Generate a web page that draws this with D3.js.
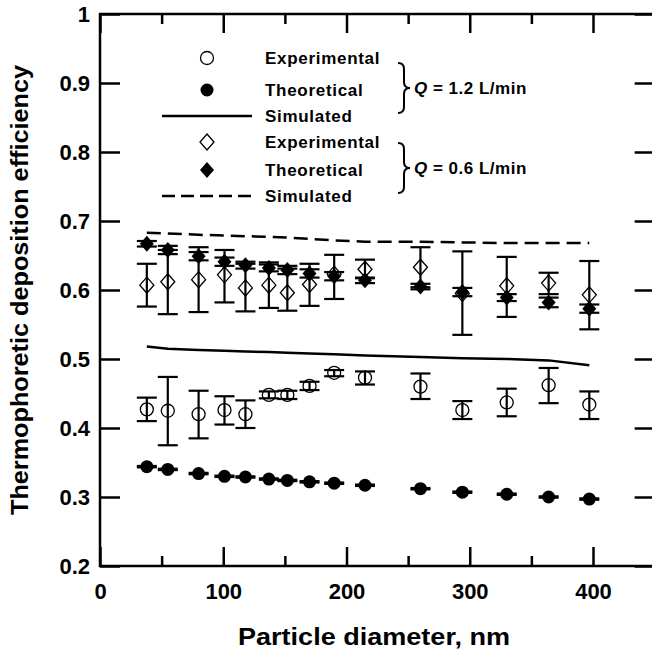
<!DOCTYPE html>
<html>
<head>
<meta charset="utf-8">
<script src="https://cdn.jsdelivr.net/npm/d3@7"></script>
<style>
  body { margin: 0; background: #fff; }
  svg { display: block; font-family: "Liberation Sans", Arial, sans-serif; font-weight: bold; }
</style>
</head>
<body>
<svg id="chart" width="652" height="653"></svg>
<script>
// ---- data ----
var diameters = [38, 55, 80, 101, 118, 137, 152, 170, 190, 215, 260, 294, 330, 364, 397];

// Q = 1.2 L/min
var exp12   = [0.427, 0.425, 0.420, 0.426, 0.420, 0.448, 0.448, 0.461, 0.480, 0.473, 0.460, 0.426, 0.437, 0.462, 0.434];
var exp12Lo = [0.410, 0.375, 0.385, 0.405, 0.400, 0.443, 0.442, 0.455, 0.475, 0.463, 0.442, 0.413, 0.417, 0.436, 0.413];
var exp12Hi = [0.444, 0.474, 0.454, 0.446, 0.440, 0.453, 0.454, 0.467, 0.484, 0.482, 0.479, 0.439, 0.457, 0.487, 0.453];
var theo12  = [0.344, 0.340, 0.334, 0.330, 0.329, 0.326, 0.324, 0.322, 0.320, 0.317, 0.312, 0.307, 0.304, 0.300, 0.297];
var theo12Err = [0.001, 0.001, 0.001, 0.001, 0.001, 0.001, 0.001, 0.001, 0.001, 0.001, 0.001, 0.001, 0.001, 0.001, 0.001];
var sim12   = [0.518, 0.515, 0.513, 0.512, 0.511, 0.510, 0.509, 0.508, 0.507, 0.505, 0.503, 0.501, 0.500, 0.498, 0.491];

// Q = 0.6 L/min
var exp06   = [0.607, 0.612, 0.615, 0.622, 0.603, 0.607, 0.596, 0.608, 0.623, 0.630, 0.633, 0.595, 0.606, 0.610, 0.593];
var exp06Lo = [0.576, 0.565, 0.568, 0.582, 0.569, 0.574, 0.570, 0.577, 0.587, 0.617, 0.604, 0.535, 0.561, 0.594, 0.543];
var exp06Hi = [0.638, 0.658, 0.662, 0.658, 0.638, 0.640, 0.631, 0.638, 0.651, 0.644, 0.662, 0.656, 0.648, 0.625, 0.642];
var theo06  = [0.667, 0.658, 0.649, 0.641, 0.636, 0.632, 0.629, 0.624, 0.620, 0.614, 0.605, 0.597, 0.589, 0.582, 0.573];
var theo06Err = [0.004, 0.006, 0.006, 0.006, 0.005, 0.005, 0.006, 0.006, 0.006, 0.004, 0.004, 0.006, 0.005, 0.007, 0.006];
var sim06   = [0.683, 0.682, 0.680, 0.679, 0.678, 0.677, 0.676, 0.674, 0.672, 0.670, 0.670, 0.669, 0.668, 0.668, 0.668];

var X_MAJOR = [0, 100, 200, 300, 400];
var X_MINOR = [50, 150, 250, 350, 450];
var Y_TICKS = [0.2, 0.3, 0.4, 0.5, 0.6, 0.7, 0.8, 0.9, 1];

// ---- layout ----
var LEFT = 100, TOP = 14, BOTTOM = 566;
var X_PER_UNIT = 1.2325;
var X_MAX = 450;
var CAP_W = 10;          // half width of error bar caps
var MARK_R = 6.5;

var svg = d3.select("#chart");
var xScale = d3.scaleLinear().domain([0, X_MAX]).range([LEFT, LEFT + X_MAX * X_PER_UNIT]);
var yScale = d3.scaleLinear().domain([0.2, 1]).range([BOTTOM, TOP]);
var RIGHT = xScale(X_MAX);

function styleAxis(g) {
    g.select(".domain").remove();
    g.selectAll(".tick line").attr("stroke", "#000").attr("stroke-width", 2.5);
    g.selectAll(".tick text")
        .attr("fill", "#000")
        .style("font-size", "22px")
        .style("font-weight", "bold")
        .style("font-family", "'Liberation Sans', Arial, sans-serif");
}

// bottom axis, major + minor
svg.append("g")
    .attr("transform", "translate(0," + BOTTOM + ")")
    .call(d3.axisBottom(xScale).tickValues(X_MAJOR).tickSize(-19).tickPadding(17).tickFormat(d3.format("d")))
    .call(styleAxis);
svg.append("g")
    .attr("transform", "translate(0," + BOTTOM + ")")
    .call(d3.axisBottom(xScale).tickValues(X_MINOR).tickSize(-10).tickFormat(""))
    .call(styleAxis);
// top axis
svg.append("g")
    .attr("transform", "translate(0," + TOP + ")")
    .call(d3.axisTop(xScale).tickValues(X_MAJOR).tickSize(-19).tickFormat(""))
    .call(styleAxis);
svg.append("g")
    .attr("transform", "translate(0," + TOP + ")")
    .call(d3.axisTop(xScale).tickValues(X_MINOR).tickSize(-10).tickFormat(""))
    .call(styleAxis);
// left / right axes
svg.append("g")
    .attr("transform", "translate(" + LEFT + ",0)")
    .call(d3.axisLeft(yScale).tickValues(Y_TICKS).tickSize(-20).tickPadding(10)
        .tickFormat(d => d === 1 ? "1" : d3.format(".1f")(d)))
    .call(styleAxis);
svg.append("g")
    .attr("transform", "translate(" + RIGHT + ",0)")
    .call(d3.axisRight(yScale).tickValues(Y_TICKS).tickSize(-20).tickFormat(""))
    .call(styleAxis);

// frame
svg.append("rect")
    .attr("x", LEFT).attr("y", TOP)
    .attr("width", RIGHT - LEFT).attr("height", BOTTOM - TOP)
    .attr("fill", "none").attr("stroke", "#000").attr("stroke-width", 2.5);

// axis titles
svg.append("text")
    .attr("x", 374).attr("y", 645)
    .attr("text-anchor", "middle")
    .attr("textLength", 272).attr("lengthAdjust", "spacingAndGlyphs")
    .style("font-size", "23px")
    .text("Particle diameter, nm");
svg.append("text")
    .attr("transform", "translate(28," + ((TOP + BOTTOM) / 2) + ") rotate(-90)")
    .attr("text-anchor", "middle")
    .attr("textLength", 450).attr("lengthAdjust", "spacingAndGlyphs")
    .style("font-size", "23px")
    .text("Thermophoretic deposition efficiency");

// simulated curves
var line = d3.line()
    .x((d, i) => xScale(diameters[i]))
    .y(d => yScale(d));
svg.append("path")
    .attr("d", line(sim12))
    .attr("fill", "none").attr("stroke", "#000").attr("stroke-width", 2.5);
svg.append("path")
    .attr("d", line(sim06))
    .attr("fill", "none").attr("stroke", "#000").attr("stroke-width", 2.5)
    .attr("stroke-dasharray", "14,7");

// error bars
function drawErrorBars(lo, hi, cls) {
    var g = svg.append("g").attr("class", cls)
        .attr("stroke", "#000").attr("stroke-width", 2.2);
    diameters.forEach(function (d, i) {
        var cx = xScale(d);
        g.append("line").attr("x1", cx).attr("x2", cx)
            .attr("y1", yScale(lo[i])).attr("y2", yScale(hi[i]));
        g.append("line").attr("x1", cx - CAP_W).attr("x2", cx + CAP_W)
            .attr("y1", yScale(lo[i])).attr("y2", yScale(lo[i]));
        g.append("line").attr("x1", cx - CAP_W).attr("x2", cx + CAP_W)
            .attr("y1", yScale(hi[i])).attr("y2", yScale(hi[i]));
    });
}
drawErrorBars(exp12Lo, exp12Hi, "err-exp12");
drawErrorBars(exp06Lo, exp06Hi, "err-exp06");
drawErrorBars(theo12.map((v, i) => v - theo12Err[i]), theo12.map((v, i) => v + theo12Err[i]), "err-theo12");
drawErrorBars(theo06.map((v, i) => v - theo06Err[i]), theo06.map((v, i) => v + theo06Err[i]), "err-theo06");

// markers
var diamondShape = {
    draw: function (ctx) {
        var w = 7, h = 8;
        ctx.moveTo(0, -h); ctx.lineTo(w, 0); ctx.lineTo(0, h); ctx.lineTo(-w, 0); ctx.closePath();
    }
};
var diamond = d3.symbol().type(diamondShape);
var circle = d3.symbol().type(d3.symbolCircle).size(Math.PI * MARK_R * MARK_R);

svg.selectAll(".exp12")
    .data(exp12).enter().append("path")
    .attr("class", "exp12")
    .attr("d", circle)
    .attr("transform", (d, i) => "translate(" + xScale(diameters[i]) + "," + yScale(d) + ")")
    .attr("fill", "none").attr("stroke", "#000").attr("stroke-width", 1.3);

svg.selectAll(".theo12")
    .data(theo12).enter().append("path")
    .attr("class", "theo12")
    .attr("d", circle)
    .attr("transform", (d, i) => "translate(" + xScale(diameters[i]) + "," + yScale(d) + ")")
    .attr("fill", "#000");

svg.selectAll(".exp06")
    .data(exp06).enter().append("path")
    .attr("class", "exp06")
    .attr("d", diamond)
    .attr("transform", (d, i) => "translate(" + xScale(diameters[i]) + "," + yScale(d) + ")")
    .attr("fill", "none").attr("stroke", "#000").attr("stroke-width", 1.3);

svg.selectAll(".theo06")
    .data(theo06).enter().append("path")
    .attr("class", "theo06")
    .attr("d", diamond)
    .attr("transform", (d, i) => "translate(" + xScale(diameters[i]) + "," + yScale(d) + ")")
    .attr("fill", "#000");

// legend
var LEG_SYM_X = 207, LEG_TEXT_X = 265;
var legendRows = [
    { label: "Experimental", y: 58, kind: "openCircle" },
    { label: "Theoretical",  y: 90, kind: "filledCircle" },
    { label: "Simulated",    y: 116, kind: "solid" },
    { label: "Experimental", y: 142, kind: "openDiamond" },
    { label: "Theoretical",  y: 170, kind: "filledDiamond" },
    { label: "Simulated",    y: 196, kind: "dashed" }
];
var leg = svg.append("g").attr("class", "legend");
legendRows.forEach(function (r) {
    if (r.kind === "solid" || r.kind === "dashed") {
        leg.append("line")
            .attr("x1", 162).attr("x2", 252).attr("y1", r.y).attr("y2", r.y)
            .attr("stroke", "#000").attr("stroke-width", 2.5)
            .attr("stroke-dasharray", r.kind === "dashed" ? "13,6" : null);
    } else {
        var open = r.kind.indexOf("open") === 0;
        leg.append("path")
            .attr("d", r.kind.indexOf("Circle") > 0 ? circle() : diamond())
            .attr("transform", "translate(" + LEG_SYM_X + "," + r.y + ")")
            .attr("fill", open ? "none" : "#000")
            .attr("stroke", open ? "#000" : "none")
            .attr("stroke-width", 1.3);
    }
    leg.append("text")
        .attr("x", LEG_TEXT_X).attr("y", r.y + 6)
        .style("font-size", "17px")
        .style("letter-spacing", "0.7px")
        .text(r.label);
});

// braces + flow rate labels
function bracePath(x, y0, y1, w) {
    var ym = (y0 + y1) / 2, mx = x + w / 2, r = 6;
    return "M" + x + "," + y0 +
        " Q" + mx + "," + y0 + " " + mx + "," + (y0 + r) +
        " L" + mx + "," + (ym - r) +
        " Q" + mx + "," + ym + " " + (x + w) + "," + ym +
        " Q" + mx + "," + ym + " " + mx + "," + (ym + r) +
        " L" + mx + "," + (y1 - r) +
        " Q" + mx + "," + y1 + " " + x + "," + y1;
}
var braces = [
    { y0: 63, y1: 113, label: " = 1.2 L/min" },
    { y0: 143, y1: 193, label: " = 0.6 L/min" }
];
braces.forEach(function (b) {
    svg.append("path")
        .attr("d", bracePath(398, b.y0, b.y1, 12))
        .attr("fill", "none").attr("stroke", "#000").attr("stroke-width", 2);
    var t = svg.append("text")
        .attr("x", 414).attr("y", (b.y0 + b.y1) / 2 + 6)
        .style("font-size", "17px")
        .style("letter-spacing", "0.5px");
    t.append("tspan").style("font-style", "italic").text("Q");
    t.append("tspan").text(b.label);
});
</script>
</body>
</html>
